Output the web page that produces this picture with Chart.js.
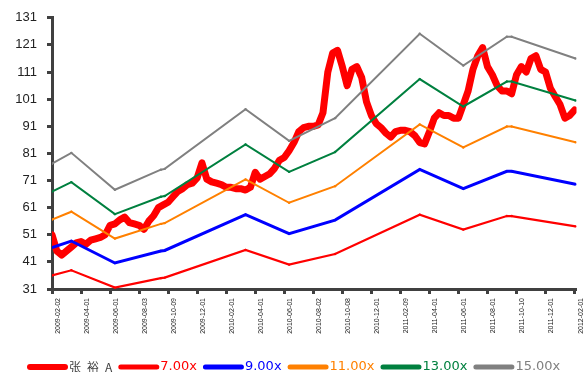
<!DOCTYPE html>
<html>
<head>
<meta charset="utf-8">
<script src="https://cdn.jsdelivr.net/npm/chart.js@4/dist/chart.umd.min.js"></script>
<style>
  html, body { margin: 0; padding: 0; background: #ffffff; }
  canvas { display: block; }
</style>
</head>
<body>
<canvas id="pe" width="587" height="372"></canvas>
<script>
// Tick labels along the time axis (one every two months)
const tickLabels = [
  "2009-02-02", "2009-04-01", "2009-06-01", "2009-08-03", "2009-10-09", "2009-12-01",
  "2010-02-01", "2010-04-01", "2010-06-01", "2010-08-02", "2010-10-08", "2010-12-01",
  "2011-02-09", "2011-04-01", "2011-06-01", "2011-08-01", "2011-10-10", "2011-12-01",
  "2012-02-01"
];
const samplesPerTick = 6;

// 张裕A closing price, sampled evenly along the axis
const priceValues = [
  51, 45, 43.5, 45, 46.5, 48, 48.5, 47.5, 49, 49.5,
  50, 51, 54.5, 55, 56.5, 57.5, 55.5, 55, 54.5, 53,
  56, 58, 61, 62, 63, 65, 67, 68, 69.5, 70,
  72, 77.5, 71.5, 70.5, 70, 69.5, 68.5, 68.5, 68, 68,
  67.5, 68.5, 74, 71.5, 72.5, 73.5, 75.5, 78.5, 79.5, 82,
  85, 89, 90.5, 91, 91, 91.5, 96, 111, 118, 119,
  113, 106, 112, 113, 109, 100, 95, 92, 90.5, 88.5,
  87, 89, 89.5, 89.5, 89, 87.5, 85, 84.5, 89, 94,
  96, 95, 95, 94, 94, 99, 104, 112, 117, 120,
  113, 110, 106, 104, 104, 103, 110, 113, 111, 116,
  117, 112, 111, 105, 102, 99, 94, 95, 97
];

// PE band breakpoints (report dates) and band values
const bandX = [0, 4, 13, 22.5, 23.3, 40, 49, 58.5, 76, 85, 94, 95, 108.2];
const pe7  = [36.0, 37.9, 31.5, 35.0, 35.2, 45.4, 40.0, 43.9, 58.4, 52.9, 57.9, 57.9, 54.1];
const pe9  = [46.3, 48.7, 40.6, 45.0, 45.2, 58.4, 51.4, 56.4, 75.1, 68.0, 74.4, 74.4, 69.6];
const pe11 = [56.6, 59.5, 49.6, 55.0, 55.3, 71.4, 62.8, 68.9, 91.7, 83.2, 90.9, 90.9, 85.1];
const pe13 = [66.9, 70.4, 58.6, 65.0, 65.3, 84.3, 74.2, 81.5, 108.4, 98.3, 107.5, 107.5, 100.5];
const pe15 = [77.2, 81.2, 67.6, 75.0, 75.3, 97.3, 85.6, 94.0, 125.1, 113.4, 124.0, 124.0, 116.0];

const yTicks = [31, 41, 51, 61, 71, 81, 91, 101, 111, 121, 131];

const seriesNames  = ["张裕A", "7.00x", "9.00x", "11.00x", "13.00x", "15.00x"];
const seriesColors = ["#FF0000", "#FF0000", "#0000FF", "#FF8000", "#00803F", "#808080"];

const pricePoints = priceValues.map((v, i) => ({ x: i, y: v }));
const band = vals => bandX.map((x, i) => ({ x: x, y: vals[i] }));

function bandSet(idx, vals, width) {
  return {
    label: seriesNames[idx],
    data: band(vals),
    borderColor: seriesColors[idx],
    backgroundColor: seriesColors[idx],
    borderWidth: width,
    pointRadius: 1.2,
    pointBorderWidth: 0,
    pointBackgroundColor: seriesColors[idx],
    tension: 0,
    order: 0
  };
}

const axisColor = "#404040";

// Legend row along the bottom edge: a short thick stroke, then the series name
const bottomLegend = {
  id: "bottomLegend",
  afterDraw(chart) {
    const ctx = chart.ctx;
    const y = 367;
    let x = 27;
    ctx.save();
    ctx.textBaseline = "middle";
    ctx.textAlign = "left";
    chart.data.datasets.forEach((ds, i) => {
      const lw = i === 0 ? 6 : 5;
      ctx.strokeStyle = ds.borderColor;
      ctx.lineWidth = lw;
      ctx.lineCap = "round";
      ctx.beginPath();
      ctx.moveTo(x + lw / 2, y);
      ctx.lineTo(x + 41 - lw / 2, y);
      ctx.stroke();
      x += 42;
      if (i === 0) {
        ctx.font = "12px 'Noto Sans CJK SC', sans-serif";
        ctx.letterSpacing = "6px";
        ctx.fillStyle = "#404040";
      } else {
        ctx.font = "13px 'DejaVu Sans', sans-serif";
        ctx.letterSpacing = "0px";
        ctx.fillStyle = ds.borderColor;
      }
      ctx.fillText(ds.label, x, y);
      x += ctx.measureText(ds.label).width + (i === 0 ? 0 : 6);
    });
    ctx.restore();
  }
};

new Chart(document.getElementById("pe"), {
  type: "line",
  data: {
    datasets: [
      {
        label: seriesNames[0],
        data: pricePoints,
        borderColor: seriesColors[0],
        backgroundColor: seriesColors[0],
        borderWidth: 7,
        pointRadius: 0,
        tension: 0,
        borderJoinStyle: "round",
        borderCapStyle: "round",
        order: 5
      },
      bandSet(1, pe7, 2.2),
      bandSet(2, pe9, 3),
      bandSet(3, pe11, 2),
      bandSet(4, pe13, 2),
      bandSet(5, pe15, 2)
    ]
  },
  options: {
    responsive: false,
    animation: false,
    devicePixelRatio: 1,
    layout: { padding: { top: 16, right: 8, left: 0, bottom: 31 } },
    plugins: {
      tooltip: { enabled: false },
      legend: { display: false }
    },
    scales: {
      x: {
        type: "linear",
        min: 0,
        max: (tickLabels.length - 1) * samplesPerTick + 0.4,
        afterBuildTicks(scale) {
          scale.ticks = tickLabels.map((_, k) => ({ value: k * samplesPerTick }));
        },
        afterFit(scale) { scale.height = 52; },
        border: { display: true, color: axisColor, width: 3 },
        grid: { display: true, drawOnChartArea: false, drawTicks: true, tickLength: 5, tickWidth: 3, color: axisColor },
        ticks: {
          autoSkip: false,
          minRotation: 90,
          maxRotation: 90,
          padding: 4,
          labelOffset: 6,
          color: "#222222",
          font: { family: "'Liberation Sans', Arial, sans-serif", size: 7 },
          callback: v => tickLabels[Math.round(v / samplesPerTick)]
        }
      },
      y: {
        type: "linear",
        min: 31,
        max: 131,
        afterBuildTicks(scale) {
          scale.ticks = yTicks.map(v => ({ value: v }));
        },
        afterFit(scale) { scale.width = 52; },
        border: { display: true, color: axisColor, width: 3 },
        grid: { display: true, drawOnChartArea: false, drawTicks: true, tickLength: 5, tickWidth: 3, color: axisColor },
        ticks: {
          padding: 10,
          color: "#222222",
          font: { family: "'Liberation Sans', Arial, sans-serif", size: 13 }
        }
      }
    }
  },
  plugins: [bottomLegend]
});
</script>
</body>
</html>
